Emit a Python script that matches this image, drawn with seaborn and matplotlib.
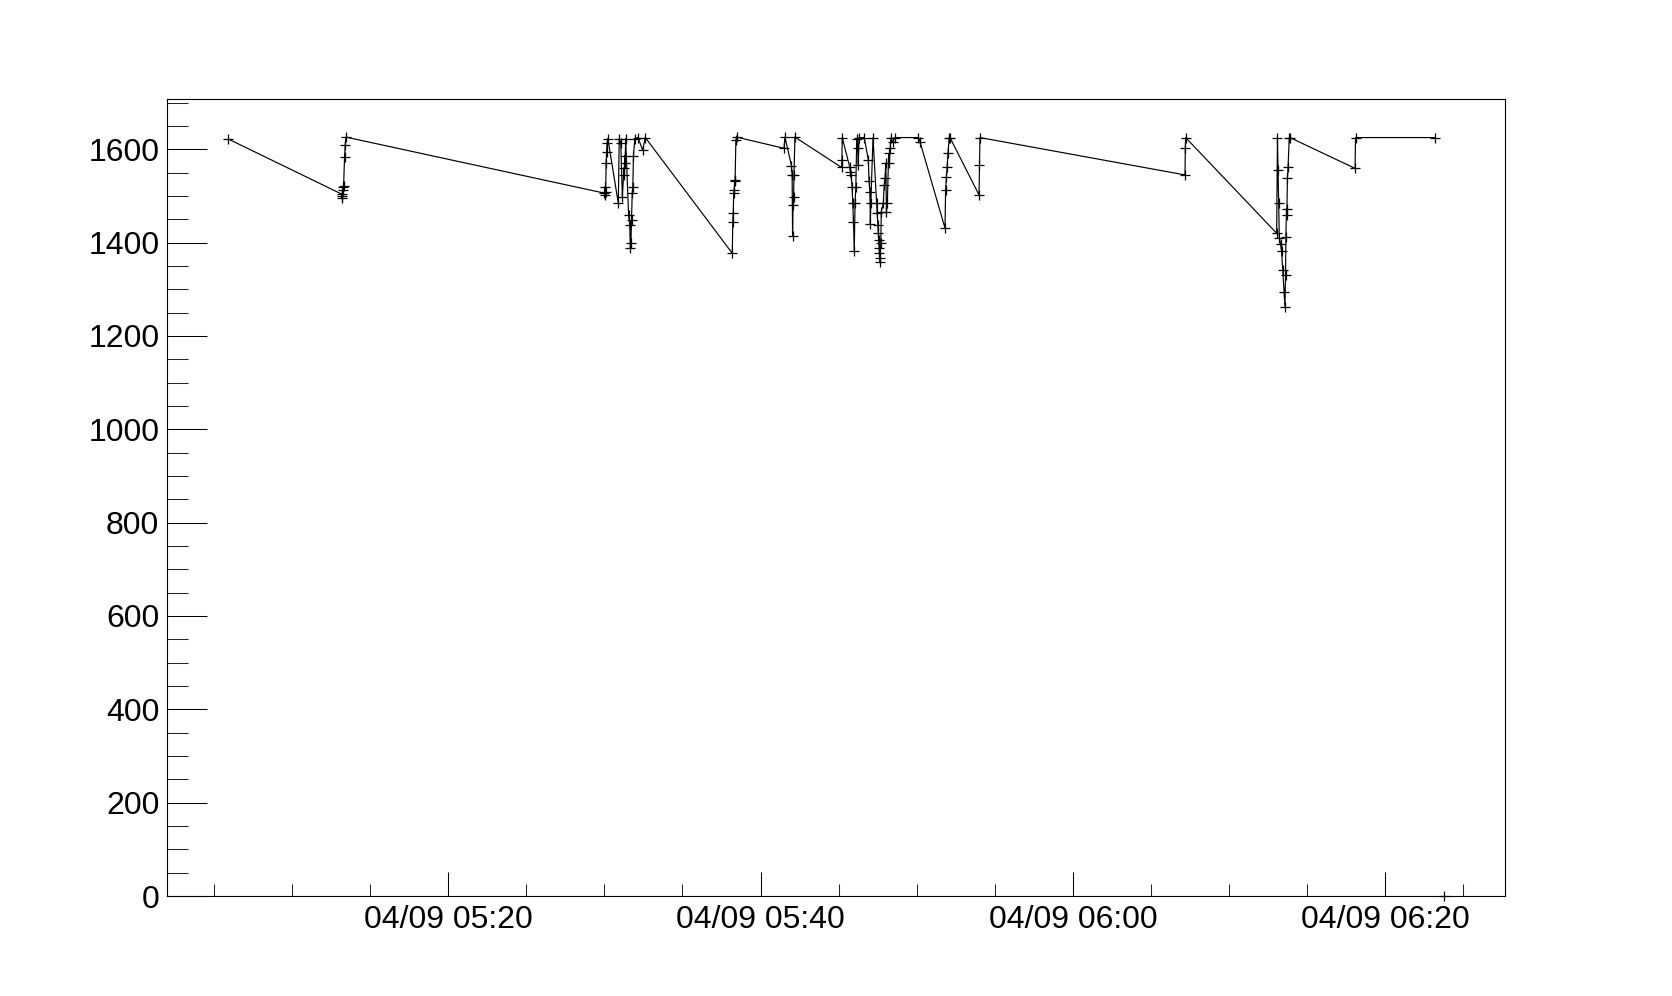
import numpy as np
import pandas as pd
import matplotlib
matplotlib.use("Agg")
import matplotlib.pyplot as plt
import matplotlib.dates as mdates
from matplotlib.ticker import MultipleLocator
import seaborn as sns

# ---------------- data (minutes after 04/09 05:00, value) ----------------
start_time = "2024-04-09 05:00:00"

minutes = [
    5.91,
    13.17, 13.19, 13.21, 13.24, 13.27, 13.30, 13.36, 13.40, 13.45,
    29.99, 30.02, 30.05, 30.08, 30.11, 30.14, 30.17, 30.22,
    30.89, 30.95, 31.05, 31.15, 31.25, 31.28, 31.30, 31.33, 31.36,
    31.55, 31.62, 31.66, 31.70, 31.74, 31.78, 31.82, 31.86, 31.95,
    32.15, 32.45, 32.62,
    38.19, 38.22, 38.25, 38.28, 38.31, 38.34, 38.37, 38.42, 38.47,
    41.50, 41.56, 41.98, 42.02, 42.05, 42.08, 42.11, 42.14, 42.20,
    45.19, 45.21, 45.23,
    45.70, 45.75, 45.80, 45.86, 45.90, 45.95, 46.00, 46.05, 46.10, 46.16, 46.22, 46.26, 46.30,
    46.64, 46.90, 46.95, 47.00, 47.03, 47.06, 47.20,
    47.43, 47.47, 47.50, 47.53, 47.56, 47.58, 47.61, 47.64, 47.66, 47.70, 47.73,
    47.86, 47.92, 47.97, 48.02, 48.06, 48.12, 48.20, 48.25, 48.30, 48.35, 48.45, 48.60,
    50.10, 50.21,
    51.81, 51.85, 51.90, 51.95, 52.00, 52.08, 52.13,
    53.99, 54.02, 54.05,
    67.18, 67.20, 67.22,
    73.05, 73.10, 73.14, 73.18, 73.22, 73.30, 73.36, 73.44, 73.52, 73.58,
    73.62, 73.64, 73.68, 73.70, 73.74, 73.78, 73.86, 73.90,
    78.07, 78.10, 83.19,
]

values = [
    1622,
    1504, 1495, 1500, 1520, 1513, 1522, 1584, 1609, 1626,
    1506, 1502, 1520, 1509, 1571, 1595, 1613, 1623,
    1484, 1623, 1613, 1498, 1560, 1545, 1586, 1570, 1623,
    1459, 1438, 1389, 1399, 1449, 1506, 1520, 1586, 1623,
    1625, 1598, 1625,
    1377, 1445, 1463, 1506, 1513, 1531, 1535, 1620, 1626,
    1602, 1626, 1565, 1545, 1415, 1481, 1498, 1545, 1626,
    1561, 1577, 1625,
    1563, 1552, 1545, 1520, 1484, 1445, 1381, 1484, 1520, 1623, 1602, 1566, 1625,
    1625, 1577, 1531, 1509, 1439, 1484, 1625,
    1484, 1463, 1438, 1420, 1406, 1388, 1377, 1366, 1359, 1400, 1466,
    1484, 1523, 1538, 1570, 1466, 1484, 1591, 1570, 1602, 1625, 1615, 1625,
    1625, 1616,
    1431, 1513, 1541, 1563, 1591, 1625, 1625,
    1502, 1566, 1625,
    1545, 1602, 1625,
    1420, 1625, 1556, 1484, 1409, 1398, 1381, 1341, 1295, 1263,
    1330, 1413, 1473, 1459, 1538, 1563, 1625, 1625,
    1559, 1625, 1625,
]

extra_minutes = [83.78]
extra_values = [0]

x_range_minutes = [1.97, 87.67]
y_range = [0, 1707]

# ---------------- build ----------------
t0 = pd.Timestamp(start_time)
df = pd.DataFrame({"time": t0 + pd.to_timedelta(minutes, unit="m"), "value": values})
df_extra = pd.DataFrame({"time": t0 + pd.to_timedelta(extra_minutes, unit="m"), "value": extra_values})

sns.set_theme(style="white")
plt.rcParams["font.family"] = ["Liberation Sans", "DejaVu Sans"]

fig = plt.figure(figsize=(16.72, 9.96), dpi=100)
ax = fig.add_axes([0.0997, 0.1004, 0.8004, 0.7999])

sns.lineplot(data=df, x="time", y="value", sort=False, estimator=None,
             color="black", linewidth=0.85, marker="+", markersize=6.5,
             markeredgewidth=0.9, markeredgecolor="black", ax=ax)

sns.scatterplot(data=df_extra, x="time", y="value", marker="+", s=42,
                color="black", linewidth=0.9, ax=ax)
for coll in ax.collections:
    coll.set_clip_on(False)

ax.set_xlim(t0 + pd.Timedelta(minutes=x_range_minutes[0]),
            t0 + pd.Timedelta(minutes=x_range_minutes[1]))
ax.set_ylim(*y_range)

ax.xaxis.set_major_locator(mdates.MinuteLocator(byminute=[0, 20, 40]))
ax.xaxis.set_minor_locator(mdates.MinuteLocator(byminute=list(range(0, 60, 5))))
ax.xaxis.set_major_formatter(mdates.DateFormatter("%m/%d %H:%M"))
ax.yaxis.set_major_locator(MultipleLocator(200))
ax.yaxis.set_minor_locator(MultipleLocator(50))

ax.tick_params(axis="x", which="major", direction="in", length=17, width=0.75,
               labelsize=23, pad=6.2, colors="black", top=False, bottom=True)
ax.tick_params(axis="x", which="minor", direction="in", length=8.6, width=0.75,
               top=False, bottom=True)
ax.tick_params(axis="y", which="major", direction="in", length=28.8, width=0.75,
               labelsize=23, pad=5.3, colors="black", left=True, right=False)
ax.tick_params(axis="y", which="minor", direction="in", length=15, width=0.75,
               left=True, right=False)

for s in ax.spines.values():
    s.set_color("black")
    s.set_linewidth(0.8)
    s.set_visible(True)

ax.set_xlabel("")
ax.set_ylabel("")
ax.grid(False)
ax.set_facecolor("white")
fig.patch.set_facecolor("white")

fig.savefig("out.png", dpi=100)
